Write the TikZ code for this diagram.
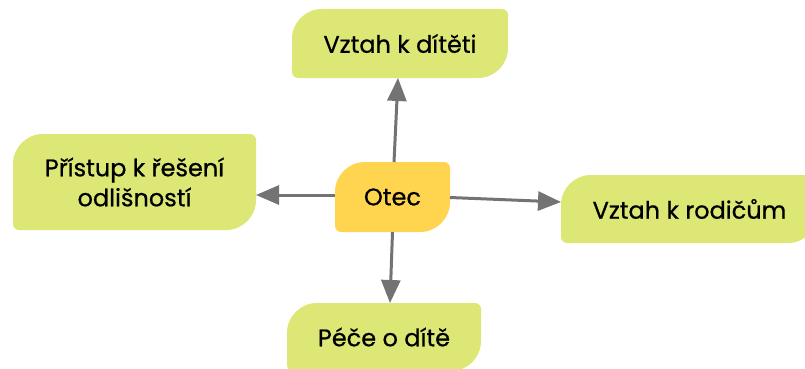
\documentclass[tikz,border=0pt]{standalone}
\usepackage{fontspec}
\setmainfont{Poppins}[FakeBold=0.7]
\usetikzlibrary{arrows.meta}

\definecolor{leafgreen}{HTML}{DCE775}
\definecolor{rootgold}{HTML}{FFD54F}
\definecolor{linkgray}{HTML}{737373}

\tikzset{
  % box with two large rounded corners (top left, bottom right) and two small ones
  leafshape/.style 2 args={path picture={
    \fill[#1]
      ([xshift=#2]path picture bounding box.north west)
      -- ([xshift=-6pt]path picture bounding box.north east)
      arc[start angle=90,end angle=0,radius=6pt]
      -- ([yshift=#2]path picture bounding box.south east)
      arc[start angle=0,end angle=-90,radius=#2]
      -- ([xshift=6pt]path picture bounding box.south west)
      arc[start angle=270,end angle=180,radius=6pt]
      -- ([yshift=-#2]path picture bounding box.north west)
      arc[start angle=180,end angle=90,radius=#2]
      -- cycle;}},
  box/.style={inner sep=0pt, outer sep=0pt, align=center,
    font=\fontsize{24}{30}\selectfont},
  topic/.style={box, leafshape={leafgreen}{30pt}},
  root/.style={box, leafshape={rootgold}{30pt}},
  link/.style={draw=linkgray, line width=3pt,
    -{Triangle[length=23pt,width=19pt]}},
}

\begin{document}
\begin{tikzpicture}[x=1pt,y=-1pt]
  \useasboundingbox (0,0) rectangle (805,369);

  \node[root,  minimum width=115pt, minimum height=70pt] (otec) at (392.5,197) {Otec};
  \node[topic, minimum width=216pt, minimum height=69pt] (dite) at (400,43.5) {Vztah k dítěti};
  \node[topic, minimum width=243pt, minimum height=96pt] (pristup) at (134.5,182) {Přístup k řešení\\odlišností};
  \node[topic, minimum width=257pt, minimum height=68pt] (rodice) at (689.5,209) {Vztah k rodičům};
  \node[topic, minimum width=194pt, minimum height=68pt] (pece) at (384,337) {Péče o dítě};

  \draw[link] ([xshift=1.5pt]otec.north) -- ([xshift=-2pt]dite.south);
  \draw[link] (otec.south) -- ([xshift=6pt]pece.north);
  \draw[link] ([yshift=-0.5pt]otec.east) -- ([yshift=7pt]rodice.west);
  \draw[link] ([yshift=2pt]otec.west) -- ([yshift=-13pt]pristup.east);
\end{tikzpicture}
\end{document}
